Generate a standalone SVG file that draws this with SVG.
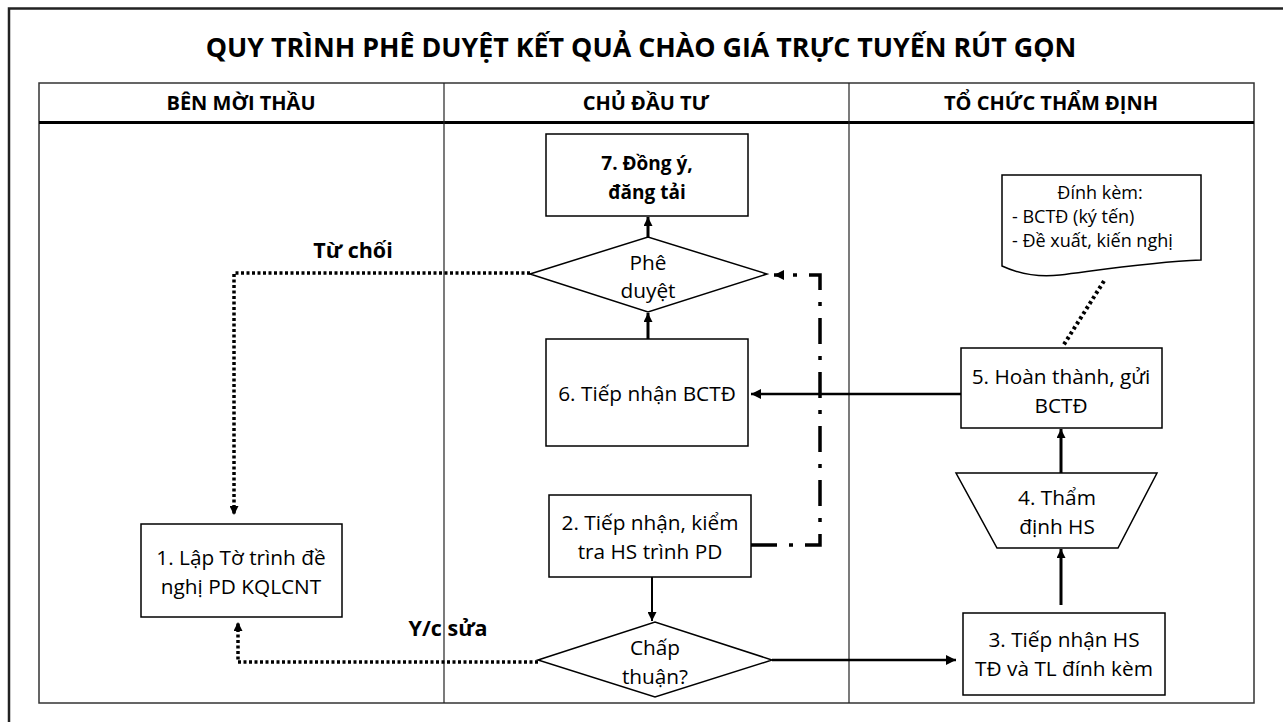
<svg xmlns="http://www.w3.org/2000/svg" width="1283" height="722" viewBox="0 0 1283 722">
<defs>
<style>
.t{font-family:"Open Sans","Noto Sans","DejaVu Sans",sans-serif;fill:#000;text-anchor:middle}
.b{font-weight:bold}
.body{font-size:20.8px}
.node{fill:#fff;stroke:#000;stroke-width:1.5}
.grid{fill:none;stroke:#333;stroke-width:1.5}
.c{fill:none;stroke:#000}
</style>
<marker id="ah" viewBox="0 0 10 10" refX="10" refY="5" markerWidth="11" markerHeight="10" markerUnits="userSpaceOnUse" orient="auto">
<path d="M0,0 L10,5 L0,10 z" fill="#000"/>
</marker>
<marker id="ahs" viewBox="0 0 10 10" refX="10" refY="5" markerWidth="9" markerHeight="9" markerUnits="userSpaceOnUse" orient="auto">
<path d="M0,0 L10,5 L0,10 z" fill="#000"/>
</marker>
</defs>
<rect width="1283" height="722" fill="#fff"/>
<g id="frame">
<path d="M9,722 V8.5 H1283" fill="none" stroke="#222" stroke-width="2.5"/>
<rect x="39" y="83" width="1215" height="620" class="grid"/>
<line x1="39" y1="122.5" x2="1254" y2="122.5" stroke="#000" stroke-width="3"/>
<line x1="444" y1="83" x2="444" y2="703" stroke="#222" stroke-width="1.2"/>
<line x1="849" y1="83" x2="849" y2="703" stroke="#222" stroke-width="1.2"/>
</g>
<g id="title">
<text class="t b" x="641" y="57" font-size="26.8">QUY TRÌNH PHÊ DUYỆT KẾT QUẢ CHÀO GIÁ TRỰC TUYẾN RÚT GỌN</text>
<text class="t b" x="241" y="110" font-size="20">BÊN MỜI THẦU</text>
<text class="t b" x="646" y="110" font-size="20">CHỦ ĐẦU TƯ</text>
<text class="t b" x="1051" y="110" font-size="20">TỔ CHỨC THẨM ĐỊNH</text>
</g>
<g id="connectors">
<line x1="648" y1="237" x2="648" y2="217" class="c" stroke-width="3" marker-end="url(#ahs)"/>
<line x1="648" y1="339" x2="648" y2="313" class="c" stroke-width="3" marker-end="url(#ahs)"/>
<line x1="961" y1="394" x2="751" y2="394" class="c" stroke-width="2.5" marker-end="url(#ah)"/>
<line x1="1104" y1="281" x2="1063" y2="346" class="c" stroke-width="4" stroke-dasharray="3 3"/>
<line x1="1061" y1="473" x2="1061" y2="429" class="c" stroke-width="3" marker-end="url(#ahs)"/>
<line x1="1061" y1="605" x2="1061" y2="549" class="c" stroke-width="3" marker-end="url(#ahs)"/>
<line x1="652" y1="577" x2="652" y2="621" class="c" stroke-width="2" marker-end="url(#ahs)"/>
<line x1="772" y1="660" x2="956" y2="660" class="c" stroke-width="2.5" marker-end="url(#ah)"/>
<path d="M751,545 H820 V275 H774" class="c" stroke-width="3.5" stroke-dasharray="26 12 4 12" marker-end="url(#ah)"/>
<path d="M530,273 H234 V515" class="c" stroke-width="3.5" stroke-dasharray="3 2.5" marker-end="url(#ahs)"/>
<path d="M538,662 H238 V622" class="c" stroke-width="3.5" stroke-dasharray="3 2.5" marker-end="url(#ahs)"/>
<text class="t b" x="353" y="258" font-size="21.5">Từ chối</text>
<text class="t b" x="448" y="636" font-size="21.5">Y/c sửa</text>
</g>
<g id="n7">
<rect x="546" y="134" width="202" height="82" class="node"/>
<text class="t b" x="647" y="170" font-size="19">7. Đồng ý,</text>
<text class="t b" x="647" y="199" font-size="19">đăng tải</text>
</g>
<g id="pheduyet">
<polygon points="530,274 648,237 767,274 648,312" class="node"/>
<text class="t body" x="648" y="270">Phê</text>
<text class="t body" x="648" y="298">duyệt</text>
</g>
<g id="n6">
<rect x="546" y="339" width="202" height="107" class="node"/>
<text class="t body" x="647" y="401">6. Tiếp nhận BCTĐ</text>
</g>
<g id="n5">
<rect x="961" y="348" width="201" height="80" class="node"/>
<text class="t body" x="1061" y="384">5. Hoàn thành, gửi</text>
<text class="t body" x="1061" y="413">BCTĐ</text>
</g>
<g id="doc">
<path d="M1002,175 H1201 V260 C1150,262 1100,270 1060,275 C1035,278 1015,272 1002,266 Z" class="node" stroke-width="1" stroke="#444"/>
<text class="t" x="1100" y="199" font-size="18">Đính kèm:</text>
<text class="t" x="1012" y="223" font-size="18" style="text-anchor:start">- BCTĐ (ký tến)</text>
<text class="t" x="1012" y="247" font-size="18" style="text-anchor:start">- Đề xuất, kiến nghị</text>
</g>
<g id="n4">
<polygon points="956,473 1157,473 1118,548 997,548" class="node"/>
<text class="t body" x="1057" y="505">4. Thẩm</text>
<text class="t body" x="1057" y="534">định HS</text>
</g>
<g id="n3">
<rect x="963" y="613" width="202" height="82" class="node"/>
<text class="t body" x="1064" y="647">3. Tiếp nhận HS</text>
<text class="t body" x="1064" y="676">TĐ và TL đính kèm</text>
</g>
<g id="n2">
<rect x="549" y="495" width="202" height="82" class="node"/>
<text class="t body" x="650" y="530">2. Tiếp nhận, kiểm</text>
<text class="t body" x="650" y="559">tra HS trình PD</text>
</g>
<g id="chapthuan">
<polygon points="538,660 655,622 772,660 655,697" class="node"/>
<text class="t body" x="655" y="655">Chấp</text>
<text class="t body" x="655" y="684">thuận?</text>
</g>
<g id="n1">
<rect x="141" y="524" width="201" height="93" class="node"/>
<text class="t body" x="241" y="565">1. Lập Tờ trình đề</text>
<text class="t body" x="241" y="594">nghị PD KQLCNT</text>
</g>
</svg>
